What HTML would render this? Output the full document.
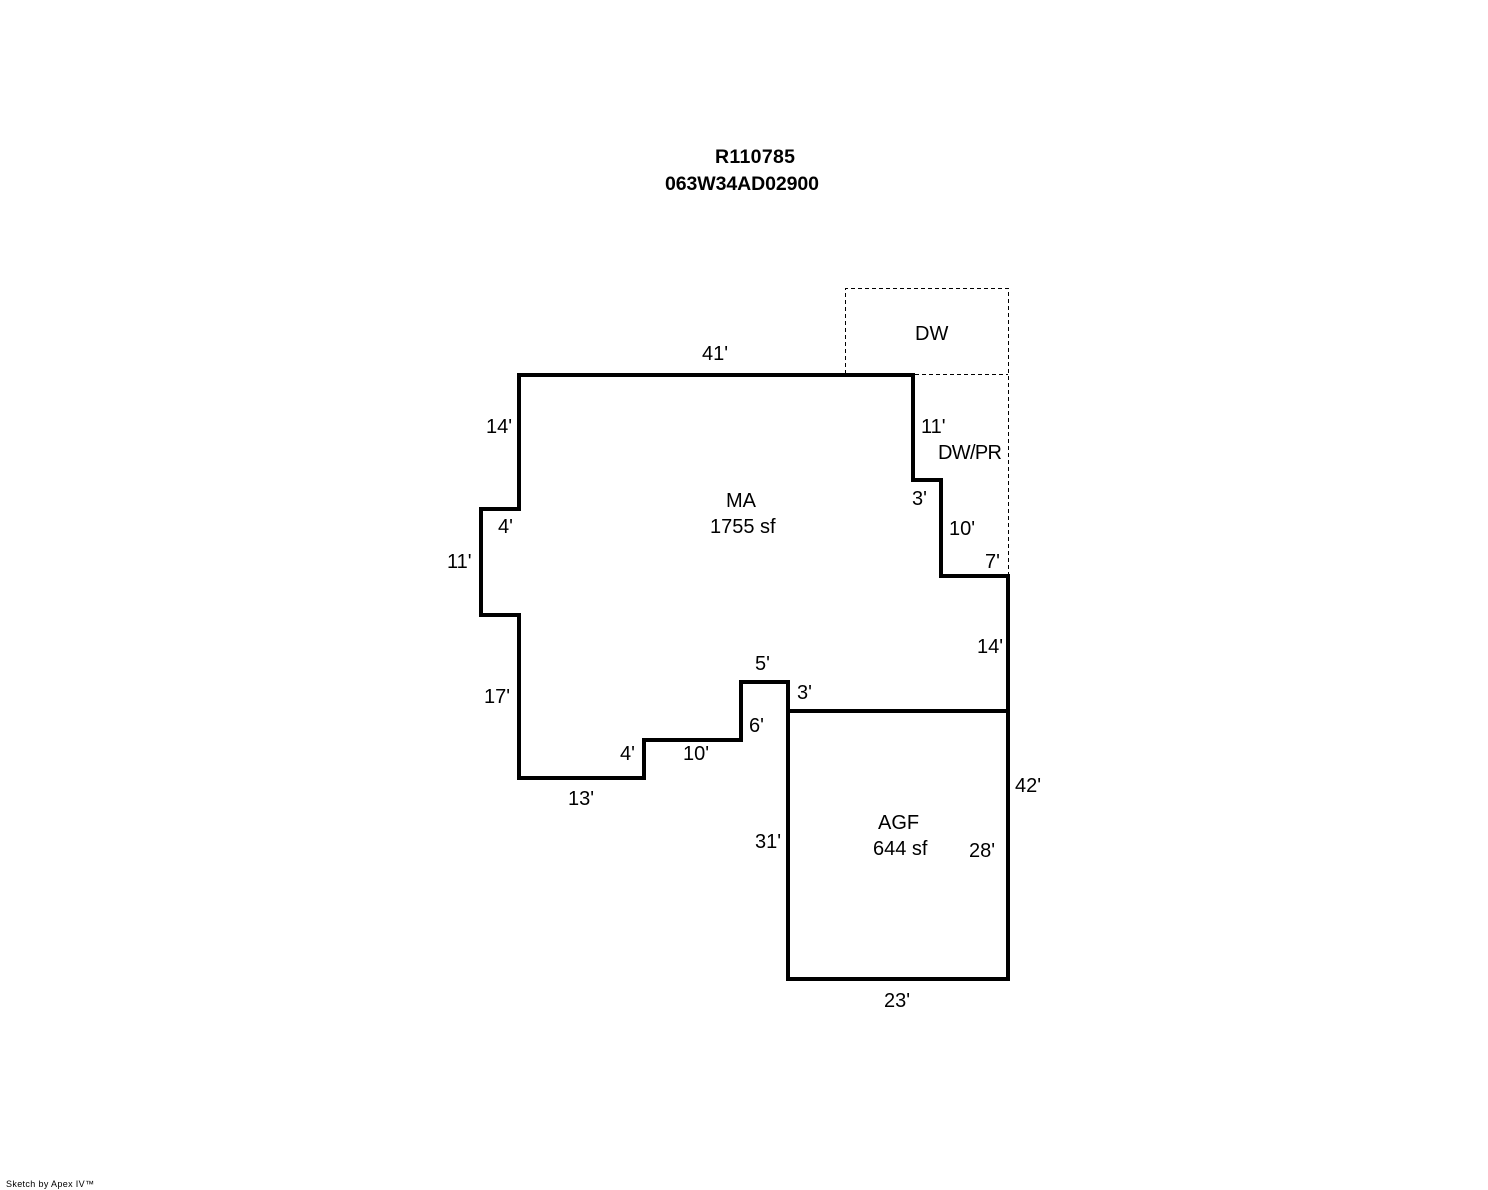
<!DOCTYPE html>
<html><head><meta charset="utf-8"><style>
html,body{margin:0;padding:0;background:#fff;width:1488px;height:1190px;overflow:hidden}
svg{display:block}
text{font-family:"Liberation Sans",sans-serif;font-size:20px;fill:#000}
.b{font-weight:bold;font-size:19.5px}
</style></head><body>
<svg width="1488" height="1190" viewBox="0 0 1488 1190" xmlns="http://www.w3.org/2000/svg">
<g fill="none" stroke="#000" stroke-width="1" stroke-dasharray="4 3" shape-rendering="crispEdges">
<path d="M845.5 374V288.5H1008.5V575"/>
<path d="M915 374.5H1008"/>
</g>
<g fill="none" stroke="#000" stroke-width="4" stroke-linejoin="miter" shape-rendering="crispEdges">
<path d="M519 375H913V480H941V576H1008V979H788V682H741V740H644V778H519V615H481V509H519Z"/>
<path d="M788 711H1008"/>
</g>
<text class="b" x="715" y="163" textLength="80" lengthAdjust="spacing">R110785</text>
<text class="b" x="665" y="190" textLength="154" lengthAdjust="spacing">063W34AD02900</text>
<text x="915" y="340">DW</text>
<text x="702" y="360">41'</text>
<text x="921" y="433">11'</text>
<text x="938" y="459" textLength="64" lengthAdjust="spacing">DW/PR</text>
<text x="912" y="505">3'</text>
<text x="949" y="535">10'</text>
<text x="985" y="568">7'</text>
<text x="486" y="433">14'</text>
<text x="498" y="533">4'</text>
<text x="447" y="568">11'</text>
<text x="726" y="507">MA</text>
<text x="710" y="533">1755 sf</text>
<text x="977" y="653">14'</text>
<text x="755" y="670">5'</text>
<text x="797" y="699">3'</text>
<text x="749" y="732">6'</text>
<text x="484" y="703">17'</text>
<text x="620" y="760">4'</text>
<text x="683" y="760">10'</text>
<text x="568" y="805">13'</text>
<text x="1015" y="792">42'</text>
<text x="878" y="829">AGF</text>
<text x="873" y="855">644 sf</text>
<text x="755" y="848">31'</text>
<text x="969" y="857">28'</text>
<text x="884" y="1007">23'</text>
<text x="6" y="1187" style="font-size:9px" textLength="88" lengthAdjust="spacing">Sketch by Apex IV™</text>
</svg>
</body></html>
